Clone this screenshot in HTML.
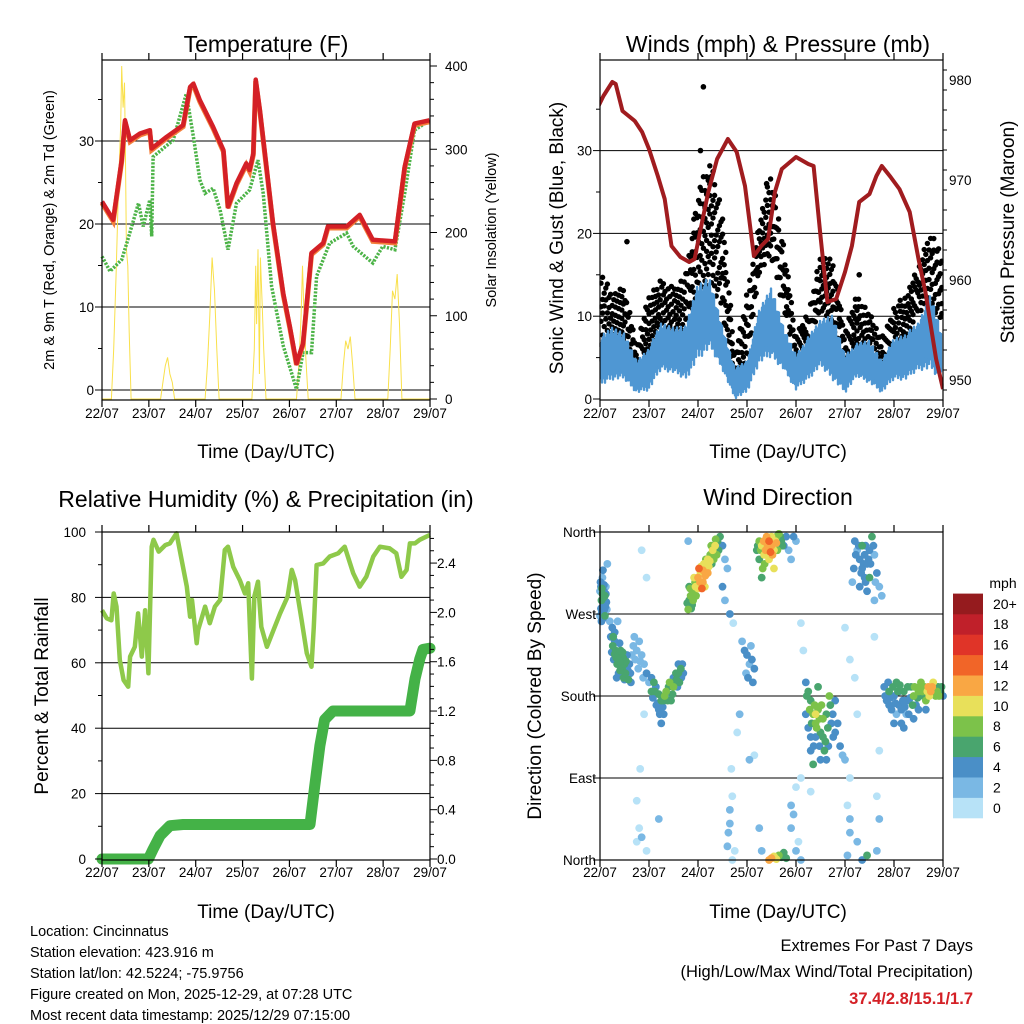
<!DOCTYPE html>
<html><head><meta charset="utf-8">
<style>
html,body{margin:0;padding:0;background:#fff;}
svg{display:block;font-family:"Liberation Sans",Arial,sans-serif;}
</style></head>
<body>
<svg id="fig" width="1024" height="1024" viewBox="0 0 1024 1024" xmlns="http://www.w3.org/2000/svg"></svg>
<script>
// ---------- DATA ----------
const tempDays = [0,0.24,0.42,0.49,0.6,0.81,1.02,1.06,1.38,1.73,1.88,1.95,2.09,2.37,2.59,2.69,2.87,3.08,3.15,3.23,3.28,3.37,3.65,3.87,4.01,4.15,4.29,4.47,4.72,4.82,5.22,5.5,5.78,6.25,6.46,6.67,6.99];
const tempVals = [22.7,20.5,27.7,32.5,30.1,30.9,31.3,29.1,30.5,31.9,36.5,36.9,34.9,31.7,28.9,22.1,24.9,27.3,26.5,28.5,37.4,33.7,20.1,11.6,7.6,3.2,5.6,16.5,17.7,19.7,19.7,21.1,18.1,17.9,26.9,32.1,32.5];
const dewDays = [0,0.17,0.42,0.53,0.78,0.88,1.02,1.06,1.09,1.52,1.8,1.95,2.09,2.2,2.37,2.52,2.69,2.87,3.15,3.33,3.44,3.62,3.87,4.15,4.29,4.47,4.58,4.86,5.22,5.36,5.78,5.99,6.25,6.46,6.67,6.99];
const dewVals = [16.1,14.3,15.7,17.7,22.5,19.7,22.9,18.5,28.1,30.1,35.7,30.5,25.3,23.7,24.3,21.7,16.9,22.5,24.1,27.7,23.7,12.5,5.3,0.1,4.5,4.5,13.7,17.7,18.9,17.3,15.3,17.3,16.9,23.7,31.3,32.5];
const solarDays = [0,0.2,0.25,0.3,0.35,0.4,0.42,0.45,0.48,0.5,0.52,0.55,0.58,0.62,1.25,1.3,1.35,1.4,1.45,1.5,1.55,2.2,2.25,2.3,2.35,2.4,2.45,2.5,3.2,3.25,3.28,3.3,3.33,3.36,3.38,3.42,3.45,3.5,4.15,4.2,4.25,4.28,4.3,4.35,4.4,5.1,5.15,5.2,5.25,5.3,5.35,5.4,6.1,6.15,6.2,6.25,6.3,6.35,6.4,7];
const solarVals = [0,0,60,150,250,330,400,350,380,300,180,160,80,0,0,20,40,50,30,20,0,0,40,100,170,130,60,0,0,60,160,90,180,30,170,110,60,0,0,40,100,160,120,50,0,0,40,70,60,75,40,0,0,60,130,120,150,90,0,0];
const tempTicks = [0,10,20,30];
const solarTicks = [0,100,200,300,400];
const dayLabels = ["22/07","23/07","24/07","25/07","26/07","27/07","28/07","29/07"];

const windBinDays = [0,0.25,0.5,0.75,1,1.25,1.5,1.75,2,2.25,2.5,2.75,3,3.25,3.5,3.75,4,4.25,4.5,4.75,5,5.25,5.5,5.75,6,6.25,6.5,6.75,7];
const sustLo = [1.5,2.3,2.3,0.7,1,3.5,3.1,2.3,4.7,6,3.5,0,0.7,4.3,5,3.5,1,2.3,3.9,2.3,0.7,2.7,1.9,0.7,2.3,2.3,3.5,3.5,1.9];
const sustHi = [7.5,8.7,8,4.7,6.3,9.2,8.7,9,14.4,14.4,8.7,3.9,4.7,10.8,13.6,8.7,5.5,7.5,9.6,10.3,5.5,6.7,7.1,4.7,7.5,8,9.2,12.8,7.5];
const gustLo = [3.5,6,6.7,2.3,4.7,8.7,8,6.3,12.8,13.6,10.4,1,3.5,15.2,16.8,10.8,3.9,5.5,10.8,8.7,3.5,6.3,6.3,2.3,6.7,6,10.4,10.8,8.7];
const gustHi = [16,12.8,13.6,6.7,12.8,14.4,13.6,15.2,25.7,28.9,22.9,5.5,12.8,21.7,27.7,18.8,8,10.4,17.6,16.8,8.7,12.8,10.4,7.5,11.2,12.8,16,20.8,16.8];
const gustOutlierDays = [2.11,5.29,0.55,2.05,3.4];
const gustOutlierVals = [37.7,15,19,30,26];
const presDays = [-0.04,0.07,0.25,0.32,0.46,0.71,0.86,1,1.18,1.32,1.46,1.64,1.82,1.93,2.04,2.21,2.39,2.61,2.79,2.96,3.14,3.29,3.43,3.57,3.71,4,4.25,4.36,4.5,4.64,4.82,5,5.14,5.29,5.5,5.64,5.75,5.93,6.11,6.32,6.5,6.64,6.86,7];
const presVals = [977.3,978.4,979.8,979.6,976.9,975.9,974.8,973.1,970.4,968.1,963.4,962.3,961.8,962.1,964.8,968.8,972.1,974.1,972.8,969.4,962.4,963.4,964.1,968.8,971.1,972.3,971.6,971.4,964.4,957.8,958.1,960.8,963.4,967.8,968.6,970.4,971.4,970.3,969.1,966.8,962.1,958.8,952.1,949.1];
const windTicks = [0,10,20,30];
const presTicks = [950,960,970,980];

const rhDays = [0,0.1,0.2,0.25,0.31,0.38,0.46,0.56,0.6,0.7,0.77,0.85,0.92,0.99,1.06,1.1,1.21,1.35,1.45,1.59,1.81,1.88,1.92,2.02,2.05,2.2,2.3,2.41,2.52,2.62,2.69,2.8,2.94,3.05,3.12,3.2,3.25,3.33,3.4,3.52,3.66,3.8,3.96,4.05,4.12,4.26,4.37,4.47,4.52,4.58,4.72,4.86,5.04,5.11,5.18,5.36,5.5,5.64,5.79,5.93,6.14,6.28,6.39,6.5,6.57,6.68,6.78,7];
const rhVals = [76.1,73.6,73,81.2,77.2,60.9,54.7,52.7,61.9,64.9,75.1,61.9,76.1,56.8,95.5,97.6,94,96,96.5,99.6,83.3,74.1,79.2,66,70,77.2,72.1,77.2,79.2,94.5,95.5,89.4,85.3,81.2,84.3,55.2,80.2,84.8,71,64.9,70,75.1,80.2,88.4,85.3,73.1,62.9,58.8,71,89.9,90.4,92.5,93.5,94.5,95.5,87.4,83.3,86.3,92.5,95.5,95,93.5,86.3,88.4,96.5,96.5,97.6,99.1];
const precipDays = [0,0.99,1.09,1.24,1.45,1.73,4.44,4.54,4.65,4.75,4.93,6.57,6.68,6.78,6.85,7];
const precipVals = [0,0,0.08,0.19,0.27,0.28,0.28,0.59,0.92,1.13,1.2,1.2,1.46,1.62,1.7,1.71];
const rhTicks = [0,20,40,60,80,100];
const precipTicks = ["0.0","0.4","0.8","1.2","1.6","2.0","2.4"];

const windObs = [
[0.02,300,4],[0.05,310,3],[0.08,295,4],[0.03,285,6],[0.07,280,5],[0.1,290,6],[0.04,272,5],[0.09,275,4],[0.12,300,3],[0.06,265,4],[0.15,325,3],[0.1,268,6],[0.0,268,3],[0.13,283,5],[0.05,292,6],[0.02,276,5],
[0.2,262,3],[0.25,255,4],[0.3,240,5],[0.32,230,6],[0.28,220,5],[0.35,215,6],[0.4,218,7],[0.45,210,6],[0.38,205,5],[0.5,215,6],[0.55,225,4],[0.42,230,7],[0.48,200,6],[0.6,215,5],[0.3,250,4],[0.34,200,4],[0.52,205,7],[0.47,222,6],[0.26,235,6],[0.58,198,6],[0.36,262,3],[0.3,226,6],[0.44,215,6],
[0.7,245,2],[0.75,230,2],[0.8,240,2],[0.85,225,3],[0.9,215,2],[0.78,210,2],[0.88,200,3],[0.95,205,4],[1.0,195,3],[1.05,200,4],[0.72,220,2],[0.82,218,2],
[1.05,185,6],[1.1,195,7],[1.15,170,4],[1.2,165,5],[1.25,175,6],[1.3,160,4],[1.35,185,8],[1.4,190,7],[1.45,175,6],[1.5,200,5],[1.55,205,6],[1.6,215,4],[1.65,210,6],[1.7,205,4],[1.62,195,7],[1.25,150,4],[1.5,190,8],[1.2,182,6],[1.58,190,4],[1.4,180,4],[1.32,180,8],
[1.8,275,8],[1.82,285,7],[1.85,290,9],[1.9,295,8],[1.95,300,10],[2.0,310,12],[2.05,315,11],[2.1,305,13],[2.12,325,10],[2.18,318,9],[2.2,330,10],[2.25,335,8],[2.3,340,11],[2.35,345,10],[2.4,350,7],[2.45,355,6],[2.5,345,4],[2.55,330,3],[1.88,280,6],[2.02,320,14],[2.15,312,12],[2.28,325,7],[2.38,335,9],[1.78,282,6],[2.08,298,14],[2.22,322,11],[2.5,300,4],[2.6,320,3],[2.65,270,4],[2.55,285,3],[1.82,300,7],[1.92,310,10],
[3.2,340,6],[3.25,350,8],[3.3,345,10],[3.35,335,11],[3.4,355,12],[3.45,350,14],[3.5,345,12],[3.55,340,10],[3.6,355,9],[3.65,358,8],[3.7,350,6],[3.75,345,5],[3.8,355,4],[3.85,340,3],[3.9,330,3],[3.45,330,10],[3.32,320,9],[3.25,330,6],[3.55,320,11],[3.6,348,12],[3.95,355,4],[4.0,350,3],[3.3,310,7],[3.48,338,15],
[2.9,240,3],[2.95,230,4],[3.0,225,4],[3.05,215,3],[3.1,220,4],[3.15,210,4],[3.02,200,5],[3.12,195,4],[2.98,205,3],[3.08,235,3],
[4.2,195,5],[4.25,185,6],[4.3,175,7],[4.35,160,8],[4.4,150,9],[4.45,165,8],[4.5,140,7],[4.55,155,8],[4.6,130,6],[4.65,145,7],[4.7,170,6],[4.75,160,5],[4.8,140,4],[4.85,150,4],[4.9,125,4],[4.95,115,3],[5.0,110,2],[4.3,120,4],[4.4,135,5],[4.5,110,5],[4.25,145,4],[4.58,120,6],[4.68,180,8],[4.2,160,4],[4.35,105,6],[4.8,175,4],[4.45,190,6],[4.4,160,10],
[5.2,350,4],[5.25,340,3],[5.3,330,4],[5.35,320,5],[5.4,310,4],[5.45,325,5],[5.5,340,4],[5.55,355,6],[5.6,335,3],[5.65,315,4],[5.7,300,3],[5.75,290,2],[5.3,300,4],[5.45,295,4],[5.5,310,6],[5.15,305,3],[5.35,345,6],[5.6,285,3],[5.4,335,5],
[5.8,190,5],[5.85,175,4],[5.9,185,6],[5.95,165,4],[6.0,180,5],[6.05,195,7],[6.1,170,4],[6.15,150,4],[6.2,185,6],[6.25,160,3],[6.3,175,5],[6.35,190,7],[6.4,180,8],[6.45,170,5],[6.5,185,9],[6.55,195,8],[6.6,180,6],[6.65,175,9],[6.7,190,12],[6.75,185,13],[6.8,195,10],[6.85,180,8],[6.9,190,7],[6.95,185,6],[7.0,180,5],[6.0,150,4],[6.2,145,4],[6.3,160,4],[6.5,165,5],[6.65,165,4],[5.9,170,4],[6.1,185,5],
[3.5,2,12],[3.55,4,11],[3.6,1,10],[3.65,5,8],[3.7,3,7],[3.75,8,6],[3.8,2,6],[3.45,0,12],
[0.75,65,1],[0.8,35,1],[0.75,20,1],[0.85,25,2],[0.82,100,1],[0.9,160,1],[0.95,10,0],[0.85,340,1],[0.95,310,1],[1.2,45,3],[1.8,350,2],[2.65,40,2],[2.7,70,1],[2.62,30,2],[2.75,10,1],[2.7,0,1],[2.68,100,1],[2.8,140,1],[2.85,160,2],[2.72,260,1],[3.05,110,3],[3.25,35,3],[3.3,10,2],[3.15,115,1],[4.0,80,1],[3.95,50,2],[4.05,20,1],[4.1,90,1],[3.9,35,2],[4.1,260,1],[4.15,230,1],[4.3,75,1],[5.1,90,1],[5.05,60,1],[5.1,30,2],[5.05,5,3],[5.25,20,3],[5.2,200,1],[5.25,160,1],[5.7,120,1],[5.65,70,1],[5.7,45,2],[5.65,10,2],[5.45,5,6],[5.35,0,4],[5.0,255,1],[5.1,220,1],[5.6,245,1],[4.1,0,2],[4.0,10,3],[2.6,15,2],[2.65,55,2],[3.9,60,2],[5.1,45,2]
];
const windObsExtra = [
[0.01,305,5],[0.04,298,6],[0.07,288,6],[0.11,278,5],[0.03,262,4],[0.08,302,4],[0.12,292,5],[0.0,295,3],[0.06,318,4],[0.14,275,3],
[0.22,245,5],[0.27,245,6],[0.33,222,7],[0.37,225,6],[0.41,208,7],[0.46,228,6],[0.5,198,5],[0.53,218,6],[0.57,208,4],[0.62,205,4],[0.24,228,5],[0.4,238,5],[0.65,225,3],[0.68,235,2],[0.63,195,5],
[1.08,178,5],[1.12,185,6],[1.18,172,5],[1.22,160,4],[1.28,168,5],[1.38,175,7],[1.42,195,8],[1.48,182,7],[1.52,195,6],[1.56,198,7],[1.6,205,6],[1.66,200,5],[1.68,215,5],[1.14,190,4],[1.3,175,6],
[1.86,276,7],[1.9,285,8],[1.96,290,9],[2.0,298,11],[2.04,305,12],[2.06,322,10],[2.1,318,12],[2.14,300,11],[2.16,330,9],[2.2,315,12],[2.24,328,10],[2.27,345,9],[2.32,330,8],[2.36,352,8],[2.42,340,7],[2.46,345,5],[1.84,298,8],[1.94,305,9],
[3.22,345,7],[3.28,340,9],[3.34,350,12],[3.38,340,13],[3.42,345,13],[3.5,355,11],[3.52,335,12],[3.58,350,10],[3.62,340,9],[3.68,355,7],[3.72,345,6],[3.36,325,9],
[4.22,180,6],[4.28,165,8],[4.32,150,7],[4.38,170,8],[4.42,145,8],[4.48,155,9],[4.52,170,8],[4.55,135,6],[4.62,160,7],[4.66,125,5],[4.72,150,5],[4.76,135,4],[4.3,135,4],[4.36,125,5],[4.62,110,5],[4.48,125,4],
[5.18,320,4],[5.22,335,4],[5.28,345,4],[5.33,315,4],[5.38,325,4],[5.42,345,5],[5.48,330,4],[5.52,325,5],[5.58,345,4],[5.62,305,3],[5.42,305,4],
[5.82,180,4],[5.88,195,5],[5.92,178,5],[5.98,190,6],[6.03,172,4],[6.08,185,6],[6.12,192,6],[6.18,175,4],[6.22,168,4],[6.28,190,6],[6.33,178,5],[6.38,170,6],[6.42,190,8],[6.48,178,7],[6.52,190,8],[6.58,185,9],[6.62,190,8],[6.68,185,10],[6.72,180,11],[6.78,190,12],[6.82,185,9],[6.88,185,9],[6.92,180,8],[6.97,190,7],[6.05,160,3],[6.15,165,4],[6.4,155,4],[6.25,175,5]
];
const dirLabels = ["North","East","South","West","North"];
const speedLabels = ["0","2","4","6","8","10","12","14","16","18","20+"];
const speedColors = ["#b7e2f7","#7ab8e4","#4a8fc7","#49a56e","#7cc24a","#e8e05a","#f9a744","#f16528","#e03428","#c0202a","#951b1e"];

// ---------- HELPERS ----------
const NS = "http://www.w3.org/2000/svg";
const svg = document.getElementById('fig');
function mk(tag, attrs, parent, text){
  const e = document.createElementNS(NS, tag);
  for (const k in attrs) e.setAttribute(k, attrs[k]);
  if (text !== undefined) e.textContent = text;
  (parent || svg).appendChild(e);
  return e;
}
function grp(name, parent){
  const g = mk('g', {}, parent);
  
  
  return g;
}
function txt(parent, x, y, s, size, anchor, name, extra){
  const a = {x:x, y:y, 'font-size':size, 'text-anchor':anchor||'middle', fill:'#000'};
  if (extra) for (const k in extra) a[k] = extra[k];
  const t = mk('text', a, parent, s);
  
  
  return t;
}
function polyline(parent, xs, ys, style, name){
  let d = '';
  const n = Math.min(xs.length, ys.length);
  for (let i=0;i<n;i++){
    if (!isFinite(xs[i]) || !isFinite(ys[i])) continue;
    d += (d?'L':'M') + xs[i].toFixed(1) + ' ' + ys[i].toFixed(1);
  }
  const p = mk('path', Object.assign({d:d, fill:'none'}, style), parent);
  
  
  return p;
}
function frame(parent, x0, y0, x1, y1, name){
  const r = mk('rect', {x:x0, y:y0, width:x1-x0, height:y1-y0, fill:'none', stroke:'#000', 'stroke-width':1.2}, parent);
  
  
}
function xAxis(parent, x0, x1, y0, y1, labY){
  const g = grp('x-axis', parent);
  const step = (x1-x0)/7;
  for (let i=0;i<dayLabels.length;i++){
    const x = x0 + i*step;
    mk('line', {x1:x, y1:y1, x2:x, y2:y1+7, stroke:'#000','stroke-width':1.2}, g);
    mk('line', {x1:x, y1:y0, x2:x, y2:y0-7, stroke:'#000','stroke-width':1.2}, g);
    txt(g, x, labY, dayLabels[i], 13.5, 'middle', 'x-tick-label');
  }
}
function interp(xs, ys, x){
  const n = Math.min(xs.length, ys.length);
  if (x <= xs[0]) return ys[0];
  for (let i=1;i<n;i++){
    if (x <= xs[i]){ const t=(x-xs[i-1])/(xs[i]-xs[i-1]); return ys[i-1]+t*(ys[i]-ys[i-1]); }
  }
  return ys[n-1];
}
function speedColor(v){ return speedColors[Math.min(10, Math.max(0, Math.floor(v/2)))]; }

// ---------- PANEL 1: TEMPERATURE ----------
(function(){
  const P = grp('temperature-panel');
  const X0=102, X1=430, Y0=60, Y1=400;
  const xs = d => X0 + d*(X1-X0)/7;
  const yT = v => 390 - 8.3*v;
  const yS = v => 399 - 0.8325*v;
  txt(P, 266, 52, 'Temperature (F)', 23, 'middle', 'temperature-title');
  const gg = grp('gridlines', P);
  tempTicks.forEach(v=>mk('line',{x1:X0,x2:X1,y1:yT(v),y2:yT(v),stroke:'#000','stroke-width':1},gg));
  polyline(P, solarDays.map(xs), solarVals.map(yS), {stroke:'#f9e04b','stroke-width':1}, 'solar-insolation-line');
  polyline(P, dewDays.map(xs), dewVals.map(yT), {stroke:'#4cb347','stroke-width':3.5,'stroke-dasharray':'2.2 1.4'}, 'dewpoint-2m-line');
  polyline(P, tempDays.map(xs), tempVals.map(v=>yT(v)+1.5), {stroke:'#f47e3a','stroke-width':5}, 'temperature-9m-line');
  polyline(P, tempDays.map(xs), tempVals.map(yT), {stroke:'#d42026','stroke-width':4.5,'stroke-linejoin':'round'}, 'temperature-2m-line');
  frame(P, X0, Y0, X1, Y1, 'temperature-plot-frame');
  const ly = grp('y-axis-left', P);
  for (let v=0; v<=35; v+=5){ const y=yT(v); mk('line',{x1:X0,x2:X0-(v%10?4:7),y1:y,y2:y,stroke:'#000'},ly); }
  tempTicks.forEach(v=>txt(ly, 94, yT(v)+5, String(v), 13.5, 'end', 'y-tick-label'));
  const ry = grp('y-axis-right', P);
  for (let v=0; v<=400; v+=20){ const y=yS(v); mk('line',{x1:X1,x2:X1+(v%100?4:7),y1:y,y2:y,stroke:'#000'},ry); }
  solarTicks.forEach(v=>txt(ry, 445, yS(v)+5, String(v), 13.5, 'start', 'y-tick-label'));
  xAxis(P, X0, X1, Y0, Y1, 418);
  txt(P, 266, 458, 'Time (Day/UTC)', 19, 'middle', 'x-axis-title');
  txt(P, 0, 0, '2m & 9m T (Red, Orange) & 2m Td (Green)', 14.5, 'middle', 'y-axis-title-left', {transform:'translate(54,230) rotate(-90)'});
  txt(P, 0, 0, 'Solar Insolation (Yellow)', 14.5, 'middle', 'y-axis-title-right', {transform:'translate(496,230) rotate(-90)'});
})();

// ---------- PANEL 2: WINDS ----------
(function(){
  const P = grp('winds-panel');
  const X0=600, X1=943, Y0=60, Y1=400;
  const xs = d => X0 + d*(X1-X0)/7;
  const yW = v => 399 - 8.28*v;
  const yP = p => 380 - 10*(p-950);
  txt(P, 778, 52, 'Winds (mph) & Pressure (mb)', 23, 'middle', 'winds-title');
  const gg = grp('gridlines', P);
  windTicks.slice(1).forEach(v=>mk('line',{x1:X0,x2:X1,y1:yW(v),y2:yW(v),stroke:'#000','stroke-width':1},gg));
  const gG = grp('gust-points', P);
  const phi = 0.618034;
  let k = 0;
  for (let px = X0+1; px < X1-1; px += 1.6){
    const d = (px - X0) / ((X1-X0)/7);
    const lo = interp(windBinDays, gustLo, d), hi = interp(windBinDays, gustHi, d);
    const n = 2 + Math.round((hi-lo)/4);
    for (let j=0;j<n;j++){
      k++;
      const f = (k*phi) % 1;
      mk('circle',{cx:px, cy:yW(lo + f*(hi-lo)), r:2.7, fill:'#000'}, gG);
    }
  }
  gustOutlierDays.forEach((d,i)=>mk('circle',{cx:xs(d),cy:yW(gustOutlierVals[i]),r:2.8,fill:'#000'},gG));
  const sG = grp('sustained-wind', P);
  k = 0;
  for (let px = X0+1; px < X1-1; px += 1){
    const d = (px - X0) / ((X1-X0)/7);
    const lo = interp(windBinDays, sustLo, d), hi = interp(windBinDays, sustHi, d);
    k++;
    const f1 = (k*phi) % 1, f2 = (k*0.754878) % 1;
    const a = lo + f1*0.25*(hi-lo), b = hi - f2*0.2*(hi-lo);
    mk('line',{x1:px,x2:px,y1:yW(a),y2:yW(b),stroke:'#4f97d3','stroke-width':2.4,'stroke-linecap':'round'}, sG);
  }
  polyline(P, presDays.map(xs), presVals.map(yP), {stroke:'#a01c1f','stroke-width':4,'stroke-linejoin':'round'}, 'station-pressure-line');
  mk('rect',{x:X1+0.6,y:Y0-2,width:12,height:Y1-Y0+4,fill:'#fff'},P);
  mk('rect',{x:X0-12,y:Y0-2,width:11.4,height:Y1-Y0+4,fill:'#fff'},P);
  frame(P, X0, Y0, X1, Y1, 'winds-plot-frame');
  const ly = grp('y-axis-left', P);
  for (let v=0; v<=35; v+=5){ const y=yW(v); mk('line',{x1:X0,x2:X0-(v%10?4:7),y1:y,y2:y,stroke:'#000'},ly); }
  windTicks.forEach(v=>txt(ly, 592, yW(v)+5, String(v), 13.5, 'end', 'y-tick-label'));
  const ry = grp('y-axis-right', P);
  for (let p=949; p<=981; p+=2){ const y=yP(p); if(y<Y0||y>Y1) continue; mk('line',{x1:X1,x2:X1+((p-950)%10?4:7),y1:y,y2:y,stroke:'#000'},ry); }
  presTicks.forEach(v=>txt(ry, 949, yP(v)+5, String(v), 13.5, 'start', 'y-tick-label'));
  xAxis(P, X0, X1, Y0, Y1, 418);
  txt(P, 778, 458, 'Time (Day/UTC)', 19, 'middle', 'x-axis-title');
  txt(P, 0, 0, 'Sonic Wind & Gust (Blue, Black)', 19, 'middle', 'y-axis-title-left', {transform:'translate(563,238) rotate(-90)'});
  txt(P, 0, 0, 'Station Pressure (Maroon)', 19, 'middle', 'y-axis-title-right', {transform:'translate(1014,232) rotate(-90)'});
})();

// ---------- PANEL 3: RH & PRECIP ----------
(function(){
  const P = grp('humidity-precip-panel');
  const X0=102, X1=430, Y0=532, Y1=860;
  const xs = d => X0 + d*(X1-X0)/7;
  const yR = v => 859 - 3.27*v;
  const yPr = v => 859 - 123.3*v;
  txt(P, 266, 507, 'Relative Humidity (%) & Precipitation (in)', 23, 'middle', 'humidity-title');
  const gg = grp('gridlines', P);
  rhTicks.slice(1,5).forEach(v=>mk('line',{x1:X0,x2:X1,y1:yR(v),y2:yR(v),stroke:'#000','stroke-width':1},gg));
  polyline(P, rhDays.map(xs), rhVals.map(yR), {stroke:'#8ec94a','stroke-width':4.5,'stroke-linejoin':'round'}, 'relative-humidity-line');
  polyline(P, precipDays.map(xs), precipVals.map(yPr), {stroke:'#44b247','stroke-width':11,'stroke-linecap':'round','stroke-linejoin':'round'}, 'total-rainfall-line');
  frame(P, X0, Y0, X1, Y1, 'humidity-plot-frame');
  const ly = grp('y-axis-left', P);
  for (let v=0; v<=100; v+=10){ const y=yR(v); mk('line',{x1:X0,x2:X0-(v%20?4:7),y1:y,y2:y,stroke:'#000'},ly); }
  rhTicks.forEach(v=>txt(ly, 86, yR(v)+5, String(v), 13.5, 'end', 'y-tick-label'));
  const ry = grp('y-axis-right', P);
  for (let i=0; i<=26; i++){ const v=i*0.1; const y=yPr(v); mk('line',{x1:X1,x2:X1+(i%4?4:7),y1:y,y2:y,stroke:'#000'},ry); }
  precipTicks.forEach(s=>txt(ry, 437, yPr(parseFloat(s))+5, s, 13.5, 'start', 'y-tick-label'));
  xAxis(P, X0, X1, Y0, Y1, 877);
  txt(P, 266, 918, 'Time (Day/UTC)', 19, 'middle', 'x-axis-title');
  txt(P, 0, 0, 'Percent & Total Rainfall', 19, 'middle', 'y-axis-title-left', {transform:'translate(48,696) rotate(-90)'});
})();

// ---------- PANEL 4: WIND DIRECTION ----------
(function(){
  const P = grp('wind-direction-panel');
  const X0=600, X1=943, Y0=532, Y1=860;
  const xs = d => X0 + d*(X1-X0)/7;
  const yD = deg => 860 - deg*0.911;
  txt(P, 778, 505, 'Wind Direction', 23, 'middle', 'wind-direction-title');
  const gg = grp('gridlines', P);
  [90,180,270].forEach(v=>mk('line',{x1:X0,x2:X1,y1:yD(v),y2:yD(v),stroke:'#000','stroke-width':1},gg));
  const sg = grp('direction-points', P);
  const sorted = windObs.concat(windObsExtra).sort((a,b)=>a[2]-b[2]);
  sorted.forEach(o=>{
    mk('circle',{cx:xs(o[0]), cy:yD(o[1]), r:3.9, fill:speedColor(o[2])}, sg);
  });
  frame(P, X0, Y0, X1, Y1, 'wind-direction-plot-frame');
  const ly = grp('y-axis-left', P);
  dirLabels.forEach((s,i)=>{ const y=yD(i*90); mk('line',{x1:X0,x2:X0-7,y1:y,y2:y,stroke:'#000'},ly); txt(ly, 596, y+5, s, 13.5, 'end', 'y-tick-label'); });
  xAxis(P, X0, X1, Y0, Y1, 877);
  txt(P, 778, 918, 'Time (Day/UTC)', 19, 'middle', 'x-axis-title');
  txt(P, 0, 0, 'Direction (Colored By Speed)', 19, 'middle', 'y-axis-title-left', {transform:'translate(541,696) rotate(-90)'});
  const cb = grp('speed-colorbar', P);
  txt(cb, 1003, 588, 'mph', 14, 'middle', 'colorbar-title');
  const bh = 20.4;
  speedColors.forEach((c,i)=>{
    const y = 818 - (i+1)*bh;
    mk('rect',{x:953,y:y,width:30,height:bh+0.3,fill:c},cb);
    txt(cb, 993, y+bh/2+5, speedLabels[i], 14, 'start', 'colorbar-label');
  });
})();

// ---------- FOOTER TEXT ----------
(function(){
  const F = grp('station-info');
  const lines = ['Location: Cincinnatus','Station elevation: 423.916 m','Station lat/lon: 42.5224; -75.9756','Figure created on Mon, 2025-12-29, at 07:28 UTC','Most recent data timestamp: 2025/12/29 07:15:00'];
  lines.forEach((s,i)=>txt(F, 30, 936+i*21, s, 14.5, 'start', 'station-info-line'));
  const E = grp('extremes-summary');
  txt(E, 973, 951, 'Extremes For Past 7 Days', 16.5, 'end', 'extremes-title');
  txt(E, 973, 977, '(High/Low/Max Wind/Total Precipitation)', 16.5, 'end', 'extremes-subtitle');
  txt(E, 973, 1004, '37.4/2.8/15.1/1.7', 16.5, 'end', 'extremes-values', {fill:'#d42026','font-weight':'bold'});
})();
</script>
</body></html>
